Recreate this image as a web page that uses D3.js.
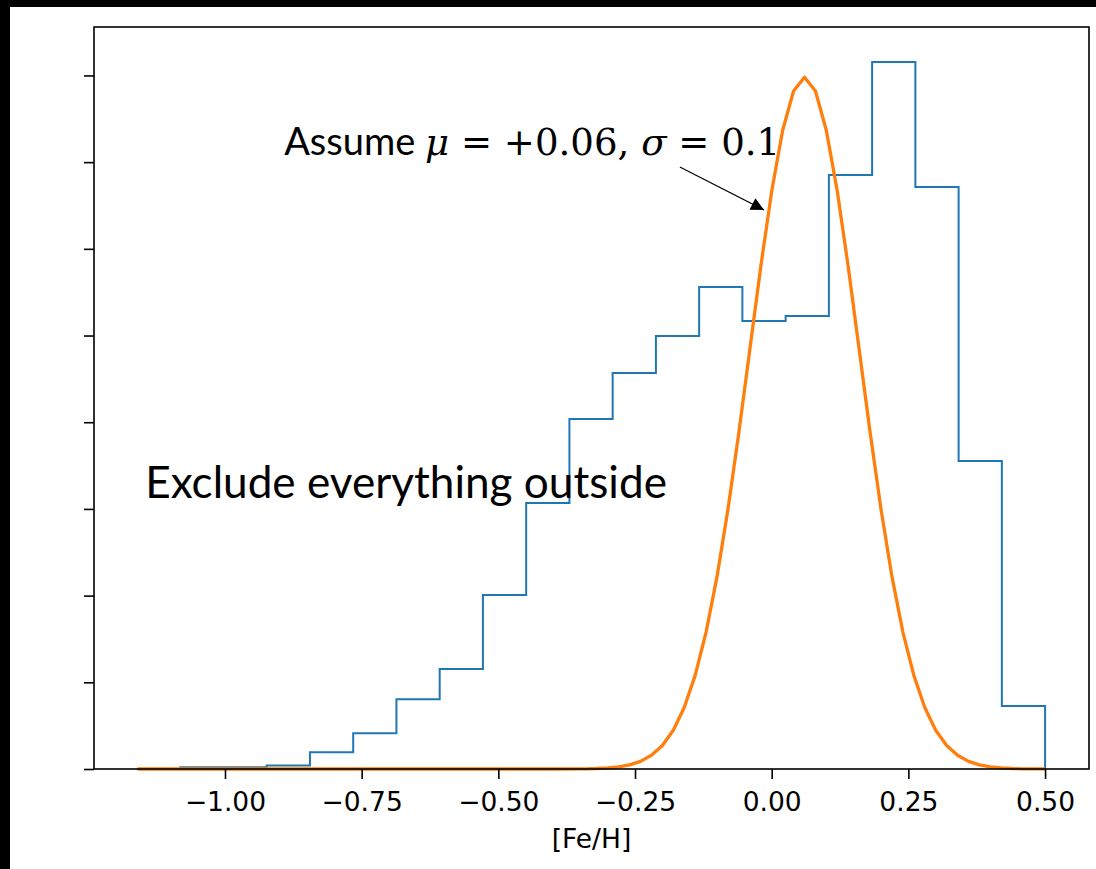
<!DOCTYPE html>
<html>
<head>
<meta charset="utf-8">
<script src="https://cdn.jsdelivr.net/npm/d3@7"></script>
<style>
  html, body { margin: 0; padding: 0; background: #fff; }
  svg { display: block; }
</style>
</head>
<body>
<svg></svg>
<script>
let width = 1096, height = 869;

// histogram bin edges and density per bin
const binEdges = [-1.161, -1.0819, -1.0028, -0.9237, -0.8446, -0.7655, -0.6864, -0.6073,
  -0.5282, -0.4491, -0.3700, -0.2909, -0.2118, -0.1327, -0.0536, 0.0255, 0.1046,
  0.1837, 0.2628, 0.3419, 0.4210, 0.5001];
const binDensity = [0, 0.01, 0.01, 0.02, 0.096, 0.206, 0.402, 0.577, 1.003, 1.534,
  2.018, 2.284, 2.497, 2.780, 2.584, 2.612, 3.426, 4.077, 3.356, 1.776, 0.363];

// normal curve as drawn (orange)
const curveX = [-1.16, -0.40, -0.34, -0.32, -0.30, -0.28, -0.26, -0.24, -0.22, -0.20, -0.18,
  -0.16, -0.14, -0.12, -0.10, -0.08, -0.06, -0.04, -0.02, 0.00, 0.02, 0.04, 0.06, 0.08,
  0.10, 0.12, 0.14, 0.16, 0.18, 0.20, 0.22, 0.24, 0.26, 0.28, 0.30, 0.32, 0.34, 0.36,
  0.38, 0.40, 0.42, 0.44, 0.46, 0.50];
const curveY = [0, 0.0001, 0.0013, 0.0029, 0.0061, 0.0123, 0.0238, 0.0443, 0.0792, 0.1358,
  0.2239, 0.3547, 0.5399, 0.7895, 1.1092, 1.4973, 1.9419, 2.4197, 2.8969, 3.3322, 3.6827,
  3.9104, 3.9894, 3.9104, 3.6827, 3.3322, 2.8969, 2.4197, 1.9419, 1.4973, 1.1092, 0.7895,
  0.5399, 0.3547, 0.2239, 0.1358, 0.0792, 0.0443, 0.0238, 0.0123, 0.0061, 0.0029, 0.0013,
  0.0002];

const xTicks = [-1.00, -0.75, -0.50, -0.25, 0.00, 0.25, 0.50];
const yTicks = [0, 0.5, 1.0, 1.5, 2.0, 2.5, 3.0, 3.5, 4.0];
const xLabel = "[Fe/H]";

let margin = {left: 94, right: 1089, top: 27, bottom: 769};

let svg = d3.select("svg")
    .attr("width", width)
    .attr("height", height)
    .attr("viewBox", "0 0 " + width + " " + height);

// dark frame strips from the slide
svg.append("rect").attr("x", 0).attr("y", 0).attr("width", width).attr("height", 7).attr("fill", "#000");
svg.append("rect").attr("x", 0).attr("y", 0).attr("width", 10).attr("height", height).attr("fill", "#000");

let x = d3.scaleLinear().domain([-1.2396, 0.5804]).range([margin.left, margin.right]);
let y = d3.scaleLinear().domain([0, 4.2794]).range([margin.bottom, margin.top]);

// histogram (step outline)
let stepPts = [[binEdges[0], 0]];
binDensity.forEach((d, i) => {
    stepPts.push([binEdges[i], d]);
    stepPts.push([binEdges[i + 1], d]);
});
stepPts.push([binEdges[binEdges.length - 1], 0]);

let line = d3.line().x(d => x(d[0])).y(d => y(d[1]));

svg.append("path")
    .datum(stepPts)
    .attr("fill", "none")
    .attr("stroke", "#1f77b4")
    .attr("stroke-width", 2)
    .attr("stroke-linejoin", "miter")
    .attr("d", line);

svg.append("path")
    .datum(curveX.map((v, i) => [v, curveY[i]]))
    .attr("fill", "none")
    .attr("stroke", "#ff7f0e")
    .attr("stroke-width", 3.3)
    .attr("stroke-linejoin", "round")
    .attr("d", line);

// axes
let xAxis = svg.append("g")
    .attr("transform", "translate(0," + margin.bottom + ")")
    .call(d3.axisBottom(x).tickValues(xTicks).tickFormat(d3.format(".2f")).tickSize(10).tickSizeOuter(0));
xAxis.select(".domain").remove();
xAxis.selectAll(".tick line").attr("stroke", "#000").attr("stroke-width", 1.6);
xAxis.selectAll(".tick text")
    .attr("y", 42).attr("dy", 0)
    .attr("fill", "#000")
    .style("font-family", "DejaVu Sans")
    .style("font-size", "26.5px");

let yAxis = svg.append("g")
    .attr("transform", "translate(" + margin.left + ",0)")
    .call(d3.axisLeft(y).tickValues(yTicks).tickFormat("").tickSize(10).tickSizeOuter(0));
yAxis.select(".domain").remove();
yAxis.selectAll(".tick line").attr("stroke", "#000").attr("stroke-width", 1.6);

// frame
svg.append("rect")
    .attr("x", margin.left).attr("y", margin.top)
    .attr("width", margin.right - margin.left)
    .attr("height", margin.bottom - margin.top)
    .attr("fill", "none")
    .attr("stroke", "#000")
    .attr("stroke-width", 1.6);

svg.append("text")
    .attr("x", (margin.left + margin.right) / 2)
    .attr("y", 848)
    .attr("text-anchor", "middle")
    .style("font-family", "DejaVu Sans")
    .style("font-size", "26.5px")
    .text(xLabel);

// annotations
svg.append("defs").append("marker")
    .attr("id", "head")
    .attr("viewBox", "0 0 10 10")
    .attr("refX", 10).attr("refY", 5)
    .attr("markerUnits", "userSpaceOnUse")
    .attr("markerWidth", 15).attr("markerHeight", 13)
    .attr("orient", "auto")
  .append("path")
    .attr("d", "M0,0 L10,5 L0,10 Z")
    .attr("fill", "#000");

svg.append("line")
    .attr("x1", x(-0.168)).attr("y1", y(3.472))
    .attr("x2", x(-0.014)).attr("y2", y(3.224))
    .attr("stroke", "#000")
    .attr("stroke-width", 1.2)
    .attr("marker-end", "url(#head)");

function fitWidth(sel, w) {
    let len = sel.node().getComputedTextLength();
    let fs = parseFloat(sel.style("font-size"));
    sel.style("font-size", (fs * w / len) + "px");
}

// "Assume" in sans, the formula in a serif math face
let t1 = svg.append("text")
    .attr("x", x(-0.8918)).attr("y", y(3.541))
    .style("font-family", "DejaVu Serif")
    .style("font-size", "38px");
t1.append("tspan").style("font-family", "Lato").style("font-size", "38px").text("Assume ");
t1.append("tspan").style("font-style", "italic").text("μ");
t1.append("tspan").text(" = +0.06, ");
t1.append("tspan").style("font-style", "italic").text("σ");
t1.append("tspan").text(" = 0.1");
fitWidth(t1, 493);

let t2 = svg.append("text")
    .attr("x", x(-1.146)).attr("y", y(1.563))
    .style("font-family", "Lato")
    .style("font-size", "40px")
    .text("Exclude everything outside");
fitWidth(t2, 522);
</script>
</body>
</html>
